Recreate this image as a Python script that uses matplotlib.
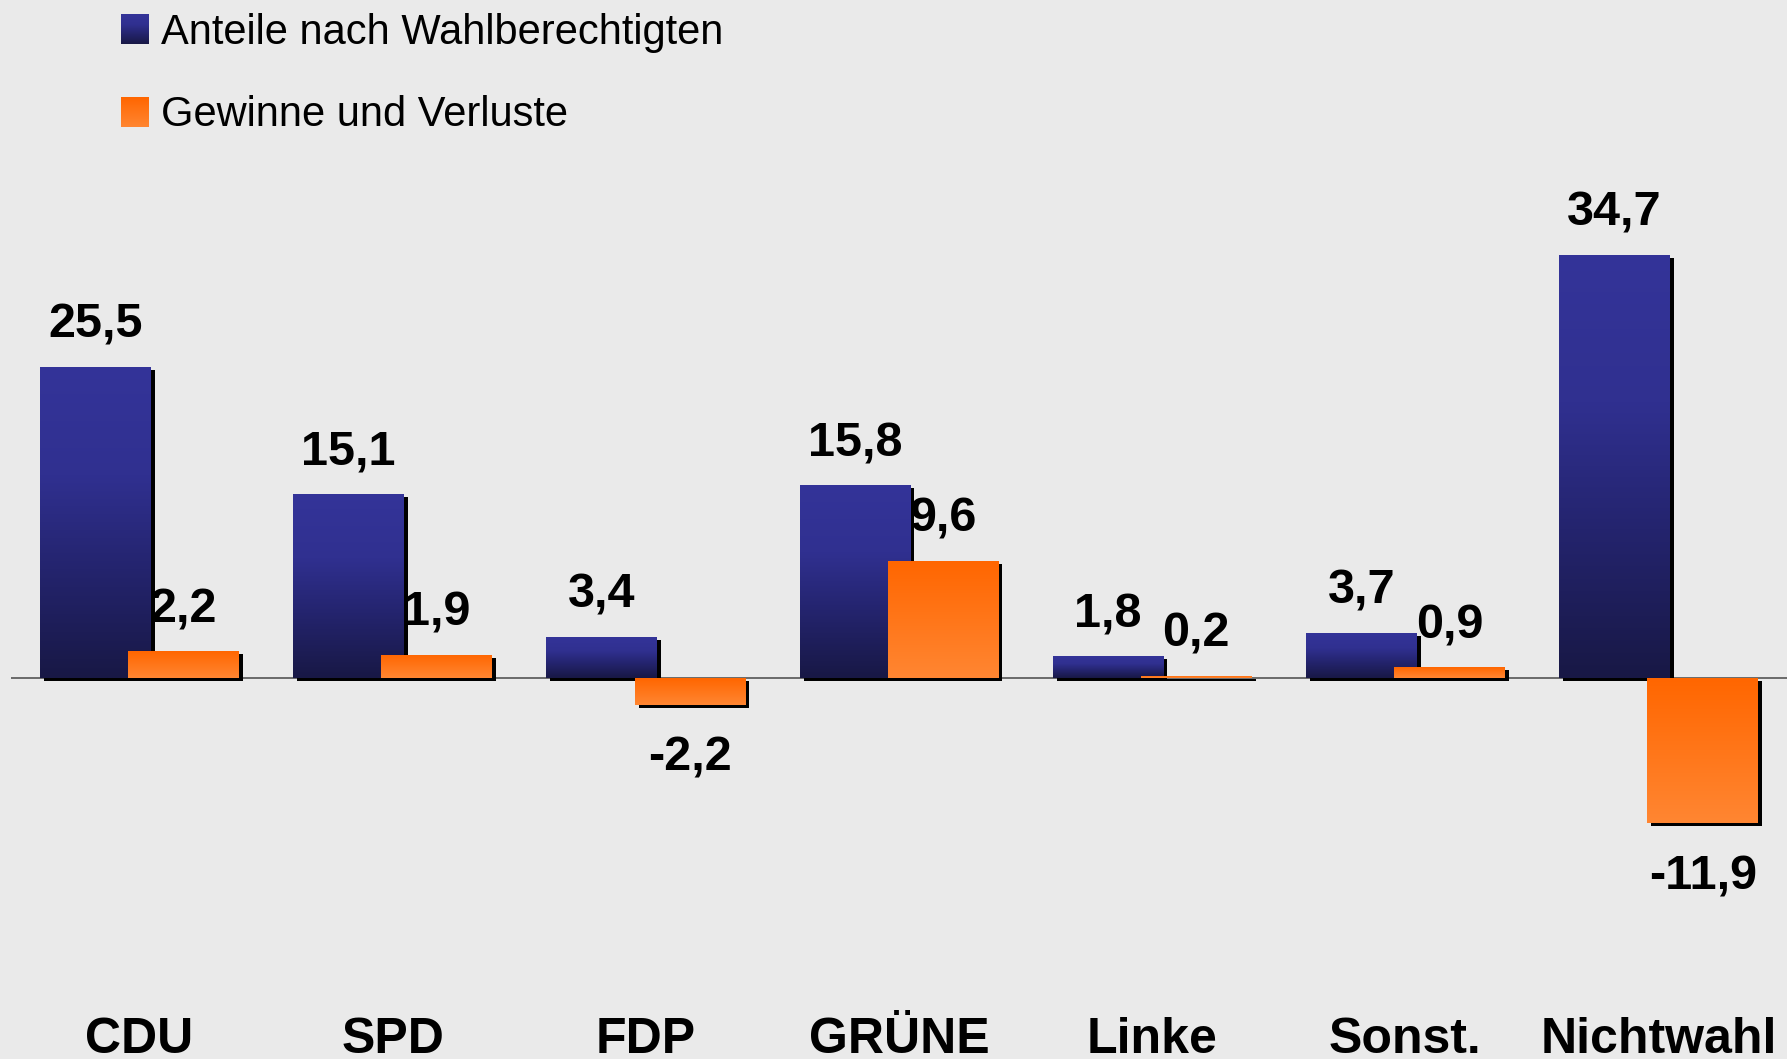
import numpy as np
import matplotlib
matplotlib.use("Agg")
import matplotlib.pyplot as plt
from matplotlib.patches import Rectangle
from matplotlib import transforms
from matplotlib.colors import LinearSegmentedColormap

plt.rcParams['font.family'] = ['Liberation Sans', 'DejaVu Sans']

categories = ["CDU", "SPD", "FDP", "GRÜNE", "Linke", "Sonst.", "Nichtwahl"]
anteile = [25.5, 15.1, 3.4, 15.8, 1.8, 3.7, 34.7]
gewinne = [2.2, 1.9, -2.2, 9.6, 0.2, 0.9, -11.9]
series_names = ["Anteile nach Wahlberechtigten", "Gewinne und Verluste"]

W, H = 1787, 1059
DPI = 100
bg = '#eaeaea'
fig = plt.figure(figsize=(W / DPI, H / DPI), dpi=DPI, facecolor=bg)
ax = fig.add_axes([11 / W, 0, 1 - 11 / W, 1])
ax.set_facecolor(bg)
for s in ax.spines.values():
    s.set_visible(False)
ax.set_xticks([])
ax.set_yticks([])

blue_cmap = LinearSegmentedColormap.from_list(
    'b', [(0, '#343499'), (0.35, '#303090'), (0.65, '#24246e'), (1, '#181845')])
orange_cmap = LinearSegmentedColormap.from_list(
    'o', [(0, '#ff6600'), (1, '#ff8632')])

x = np.arange(len(categories))
off = 0.174
width = 0.437

shadow_tr = transforms.offset_copy(ax.transData, fig=fig, x=4, y=-3, units='dots')
grad = np.linspace(0, 1, 256).reshape(-1, 1)

def draw_series(xpos, vals, cmap, z):
    bars = ax.bar(xpos, vals, width=width, color='none', edgecolor='none', zorder=z + 1)
    for p in bars.patches:
        sh = Rectangle(p.get_xy(), p.get_width(), p.get_height(),
                       transform=shadow_tr, facecolor='black', edgecolor='none', zorder=z)
        ax.add_patch(sh)
        x0 = p.get_x()
        x1 = x0 + p.get_width()
        y0 = min(p.get_y(), p.get_y() + p.get_height())
        y1 = max(p.get_y(), p.get_y() + p.get_height())
        im = ax.imshow(grad, cmap=cmap, extent=(x0, x1, y0, y1), origin='upper',
                       aspect='auto', interpolation='bilinear', zorder=z + 0.5)
        im.set_clip_path(p)
    return bars

ax.axhline(0, color='#555555', lw=1.2, zorder=0.5)
draw_series(x - off, anteile, blue_cmap, 2)
draw_series(x + off, gewinne, orange_cmap, 4)

# y scale: 12.2 px per unit, zero at 678 px from top
ppu = 12.2
ax.set_ylim(-(H - 678) / ppu, 678 / ppu)
ax.set_xlim(-0.507, 6.507)

def fmt(v):
    return f"{v:.1f}".replace('.', ',')

for xs, vals in ((x - off, anteile), (x + off, gewinne)):
    for xi, v in zip(xs, vals):
        dy = 29 if v >= 0 else -66
        ax.annotate(fmt(v), (xi, v), xytext=(0, dy), textcoords='offset pixels',
                    ha='center', va='baseline', fontsize=35, fontweight='bold',
                    color='black', zorder=10)

# category labels
trans = transforms.blended_transform_factory(ax.transData, ax.transAxes)
for xi, c in zip(x, categories):
    ax.text(xi, 1 - 1053 / H, c, transform=trans, ha='center', va='baseline',
            fontsize=36, fontweight='bold', color='black')

# legend
for i, (name, cmap) in enumerate(zip(series_names, [blue_cmap, orange_cmap])):
    top = 14 + i * 83
    lax = fig.add_axes([121 / W, 1 - (top + 30) / H, 28 / W, 30 / H])
    lax.imshow(grad, cmap=cmap, aspect='auto', interpolation='bilinear')
    lax.set_axis_off()
    fig.text(161 / W, 1 - (44 + i * 82) / H, name, ha='left', va='baseline',
             fontsize=30, color='black')

fig.savefig('out.png', dpi=DPI, facecolor=bg)
